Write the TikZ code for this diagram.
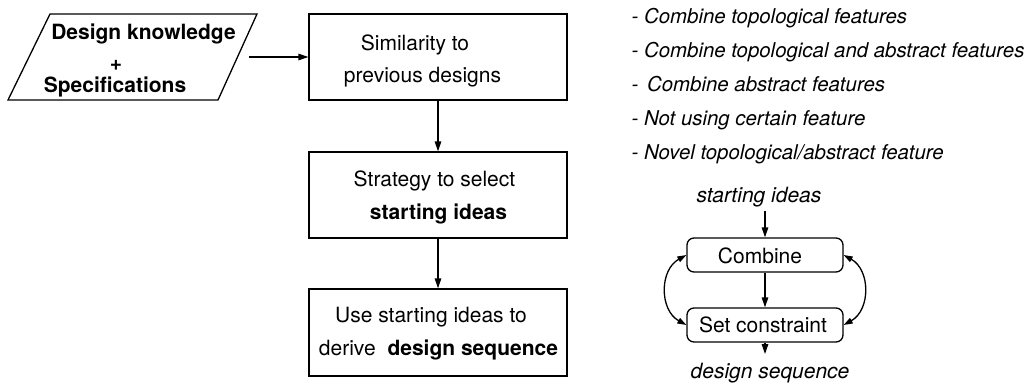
\documentclass[tikz,border=0pt]{standalone}
\usepackage{fontspec}
\setmainfont{TeX Gyre Heros}
\usetikzlibrary{arrows.meta}

\begin{document}
\begin{tikzpicture}[x=1pt,y=-1pt,
  line width=1.3pt,
  every node/.style={font=\fontsize{21}{25}\selectfont},
  box/.style={draw, rectangle, minimum width=258pt, minimum height=86pt, inner sep=0pt},
  rbox/.style={draw, rectangle, rounded corners=7pt, minimum width=156pt, minimum height=34pt, inner sep=0pt},
  txt/.style={anchor=base, inner sep=0pt},
  item/.style={anchor=base west, inner sep=0pt, font=\fontsize{20.4}{24}\selectfont\itshape},
  arr/.style={-{Triangle[length=10pt,width=6.5pt]}},
  darr/.style={{Triangle[length=9pt,width=6pt]}-{Triangle[length=9pt,width=6pt]}},
]
\useasboundingbox (0,0) rectangle (1029,391);

% input: knowledge and specifications (parallelogram)
\draw[line join=miter] (8,100) -- (50,14) -- (257,14) -- (218,100) -- cycle;
\coordinate (dkout) at (249,57);
\node[txt, font=\fontsize{21}{25}\selectfont\bfseries] (dk1) at (143.5,39) {Design knowledge};
\node[txt, font=\fontsize{21}{25}\selectfont\bfseries] (dk2) at (116,70) {+};
\node[txt, font=\fontsize{21}{25}\selectfont\bfseries] (dk3) at (115,92.5) {Specifications};

% main process chain
\node[box] (sim) at (438,57) {};
\node[txt] (sim1) at (415,50) {Similarity to};
\node[txt] (sim2) at (422.5,82.5) {previous designs};

\node[box] (str) at (438,195) {};
\node[txt] (str1) at (434.5,186.5) {Strategy to select};
\node[txt, font=\fontsize{21}{25}\selectfont\bfseries] (str2) at (438.5,219) {starting ideas};

\node[box, minimum height=87pt] (use) at (438,332.5) {};
\node[txt] (use1) at (431,322) {Use starting ideas to};
\node[txt] (use2) at (438.5,355) {derive\hspace{6pt} \textbf{design sequence}};

\draw[arr] (dkout) -- (sim.west);
\draw[arr] (sim.south) -- (str.north);
\draw[arr] (str.south) -- (use.north);

% list of strategies
\node[item] (l1) at (631,23.5) {- Combine topological features};
\node[item] (l2) at (631,57.5) {- Combine topological and abstract features};
\node[item] (l3) at (631,91.5) {-\hspace{3pt} Combine abstract features};
\node[item] (l4) at (631,125.5) {- Not using certain feature};
\node[item] (l5) at (631,159.5) {- Novel topological/abstract feature};

% combine / constrain loop
\node[txt, font=\fontsize{21}{25}\selectfont\itshape] (si) at (759,202) {starting ideas};
\node[rbox] (comb) at (765,255) {};
\node[txt] (comb1) at (760,263.5) {Combine};
\node[rbox] (set) at (765,325) {};
\node[txt] (set1) at (763,332) {Set constraint};
\node[txt, font=\fontsize{21}{25}\selectfont\itshape] (ds) at (770,378) {design sequence};

\draw[arr, shorten <=4pt] (si.south -| comb.north) -- (comb.north);
\draw[arr] (comb.south) -- (set.north);
\draw[arr, shorten >=8pt] (set.south) -- (ds.north -| set.south);
\draw[darr] (comb.west) .. controls +(-27,15) and +(-27,-15) .. (set.west);
\draw[darr] (comb.east) .. controls +(27,15) and +(27,-15) .. (set.east);
\end{tikzpicture}
\end{document}
